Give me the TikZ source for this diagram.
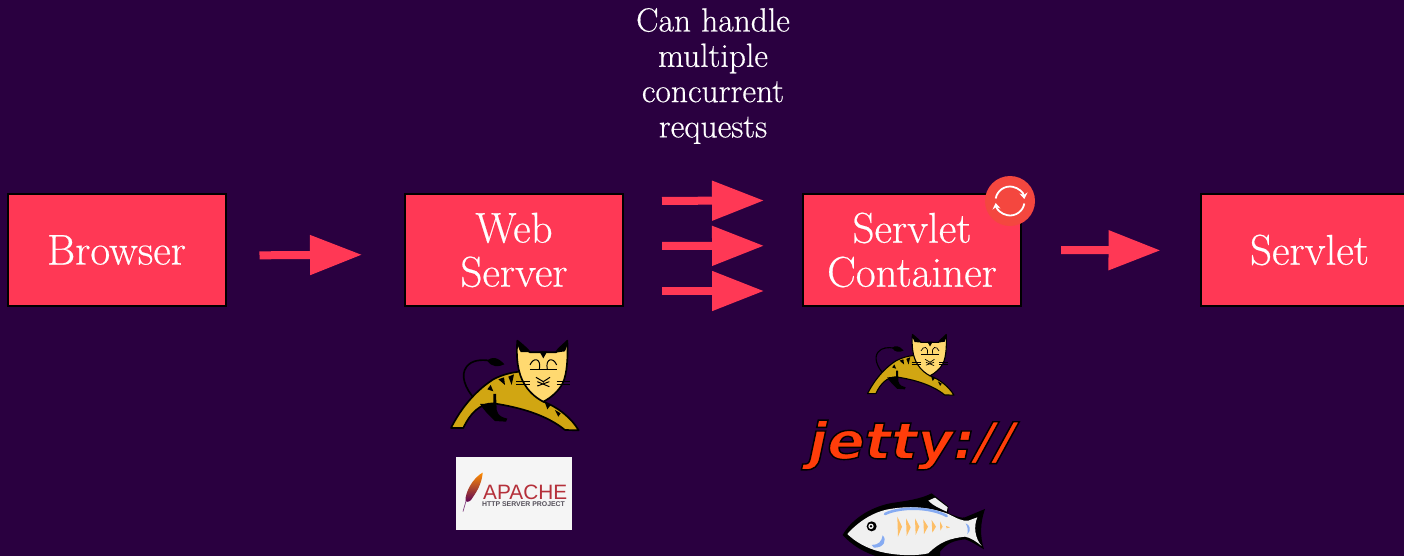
\documentclass[tikz,border=0pt]{standalone}
\usepackage{fontspec}
\usetikzlibrary{arrows.meta}
\newfontfamily\logosans{Liberation Sans}
\newfontfamily\jettyfont{DejaVu Sans}
\newfontfamily\headfont[FakeBold=0.5]{Latin Modern Roman}
\definecolor{bgc}{HTML}{2A0040}
\definecolor{boxc}{HTML}{FF3855}
\definecolor{badgec}{HTML}{F4473F}
\definecolor{catgold}{HTML}{D1A612}
\definecolor{catface}{HTML}{FFD970}
\definecolor{jettyc}{HTML}{FF3D0A}
\definecolor{apachered}{HTML}{B5303A}
\definecolor{apachegrey}{HTML}{55505A}
\definecolor{fishblue}{HTML}{86ABF2}
\definecolor{fishorange}{HTML}{FDBE66}
\tikzset{
  x=1pt,y=-1pt,
  stagebox/.style={draw=black,line width=2pt,fill=boxc,text=white,minimum width=218pt,minimum height=112pt,inner sep=0pt,align=center,
    font=\headfont\fontsize{43}{44}\selectfont},
  flowarrow/.style={draw=boxc,line width=8pt,-{Triangle[length=52pt,width=38pt,fill=boxc]}},
  cattline/.style={draw=black},
  badgearrow/.style={draw=white,line width=1.8pt,-{Stealth[length=6pt,width=8pt]}},
}
\newcommand{\drawcat}[3]{%
\begin{scope}[shift={(#1,#2)},x=#3pt,y=-#3pt]
  % tail
  \draw[black,line width=5*#3pt,line cap=round] (135,238) .. controls (105,205) and (90,165) .. (110,140) .. controls (125,120) and (155,118) .. (178,122);
  \fill[black] (172,122) .. controls (185,108) and (205,112) .. (223,133) .. controls (205,142) and (185,142) .. (172,122) -- cycle;
  % body
  \draw[black,fill=catgold,line width=5*#3pt,line join=round] (63,324) .. controls (85,280) and (125,220) .. (190,178) .. controls (215,165) and (240,158) .. (268,155)
    -- (340,245) .. controls (385,262) and (425,295) .. (446,331) -- (405,330) .. controls (350,285) and (270,262) .. (190,250) .. controls (150,250) and (120,280) .. (100,324) -- cycle;
  % hind leg
  \fill[black] (150,252) -- (190,250) -- (190,222) -- (198,222) -- (200,270) .. controls (205,290) and (218,292) .. (232,296) -- (228,305) -- (195,303) .. controls (175,285) and (160,268) .. (150,252) -- cycle;
  % stripes
  \fill[black] (205,178) -- (225,195) -- (222,172) -- cycle (235,170) -- (245,195) -- (252,163) -- cycle (172,208) -- (190,214) -- (182,195) -- cycle (345,248) -- (352,268) -- (362,255) -- cycle (375,270) -- (385,290) -- (392,280) -- cycle;
  % head
  \draw[black,fill=catface,line width=5*#3pt,line join=round] (262,62) .. controls (258,110) and (262,160) .. (285,195) .. controls (300,220) and (325,238) .. (340,245) .. controls (360,235) and (385,215) .. (398,190) .. controls (412,160) and (414,110) .. (412,62) .. controls (400,75) and (385,85) .. (378,97) -- (300,97) .. controls (290,85) and (275,72) .. (262,62) -- cycle;
  \fill[black] (262,62) .. controls (275,72) and (290,85) .. (302,97) -- (272,96) .. controls (265,85) and (263,75) .. (262,62) -- cycle
    (412,62) .. controls (400,72) and (385,85) .. (376,98) -- (405,94) .. controls (410,85) and (412,75) .. (412,62) -- cycle
    (328,94) -- (352,94) -- (340,115) -- cycle;
  % features
  \draw[cattline,line width=3*#3pt] (300,150) -- (382,150) (258,184) -- (300,184) (258,194) -- (300,194) (380,184) -- (420,184) (380,194) -- (420,194);
  \draw[cattline,line width=3*#3pt] (300,135) .. controls (310,110) and (335,115) .. (328,148) (352,148) .. controls (345,115) and (370,110) .. (380,135);
  \draw[cattline,line width=3*#3pt] (318,172) -- (340,185) -- (360,172) (322,198) -- (358,185) (322,185) -- (358,200) (340,185) -- (340,188);
\end{scope}}
\begin{document}
\begin{tikzpicture}
\useasboundingbox (0,0) rectangle (1404,556);
\fill[bgc] (0,0) rectangle (1404,556);
% stages
\node[stagebox] (browser) at (116.5,250) {Browser};
\node[stagebox] (web) at (514,250) {Web\\Server};
\node[stagebox] (container) at (912,250) {Servlet\\Container};
\node[stagebox] (servlet) at (1309.5,250) {Servlet};
% caption
\node[text=white,align=center,inner sep=0pt,font=\headfont\fontsize{33.5}{35.3}\selectfont] (note) at (713,76) {Can handle\\multiple\\concurrent\\requests};
% connectors
\draw[flowarrow,shorten <=33pt,shorten >=42pt] ([yshift=-5.5pt]browser.east) -- ([yshift=-4.5pt]web.west);
\draw[flowarrow,shorten <=38pt,shorten >=38pt] ([yshift=49pt]web.east) -- ([yshift=49.6pt]container.west);
\draw[flowarrow,shorten <=38pt,shorten >=38pt] ([yshift=4pt]web.east) -- ([yshift=4.3pt]container.west);
\draw[flowarrow,shorten <=38pt,shorten >=38pt] ([yshift=-41pt]web.east) -- ([yshift=-41pt]container.west);
\draw[flowarrow,shorten <=39pt,shorten >=39pt] ([yshift=0pt]container.east) -- ([yshift=-0.5pt]servlet.west);
% badge
\node[circle,fill=badgec,minimum size=50pt,inner sep=0pt] (badge) at (1010,201) {};
\draw[badgearrow] (995.7,198.5) arc[start angle=170,end angle=8,radius=14.5pt];
\draw[badgearrow] (1024.3,203.5) arc[start angle=-10,end angle=-172,radius=14.5pt];
% logos
\drawcat{430}{320}{0.3333}
\drawcat{853.3}{320.5}{0.2256}
% apache
\fill[white!96!black] (456,457) rectangle (572,530);
\shade[top color=orange!90!yellow,middle color=red!70!black,bottom color=violet!70!black,shading angle=0]
  (482.7,472.5) .. controls (473,478) and (465,492) .. (465.5,501) .. controls (468,503) and (471,501) .. (473,497) .. controls (478,490) and (482,482) .. (482.7,472.5) -- cycle;
\draw[violet!50!gray,line width=0.7pt] (466,501) -- (463,511.5);
\node[anchor=base west,inner sep=0pt,text=apachered,font=\logosans\fontsize{20.8}{22}\selectfont] (apache) at (483,499.3) {APACHE};
\node[anchor=base west,inner sep=0pt,text=apachegrey,font=\logosans\bfseries\fontsize{6.9}{7}\selectfont] (project) at (482,506.5) {HTTP SERVER PROJECT};
% jetty
\node[inner sep=0pt,text=jettyc,xscale=1.08,font=\jettyfont\bfseries\itshape\fontsize{51}{51}\selectfont] (jetty) at (912,445) {\special{pdf:code 2 Tr 1.4 w 0 0 0 RG}jetty://\special{pdf:code 0 Tr}};
% fish
\begin{scope}[shift={(800,410)},x=0.3333pt,y=-0.3333pt]
  \fill[black] (128,375) .. controls (150,335) and (200,295) .. (270,280) .. controls (320,272) and (360,268) .. (395,250) -- (445,290) -- (445,310) .. controls (470,320) and (485,325) .. (495,322) -- (555,297) .. controls (540,340) and (540,380) .. (552,418) .. controls (530,405) and (510,392) .. (495,388) .. controls (460,392) and (440,400) .. (420,425) -- (420,445) -- (250,445) .. controls (190,430) and (150,400) .. (128,375) -- cycle;
  \fill[white!94!black] (142,372) .. controls (175,335) and (220,305) .. (270,297) .. controls (340,285) and (400,295) .. (445,312) .. controls (470,325) and (490,335) .. (505,332) -- (532,322) .. controls (520,350) and (525,385) .. (545,408) .. controls (530,395) and (510,382) .. (495,380) .. controls (450,385) and (420,395) .. (385,430) .. controls (340,440) and (280,435) .. (240,425) .. controls (200,415) and (165,395) .. (142,372) -- cycle;
  \fill[white!94!black] (385,272) -- (405,263) -- (443,292) -- (440,305) .. controls (420,295) and (400,288) .. (385,272) -- cycle;
  \draw[fishblue,line width=2.6pt,line cap=round] (255,312) .. controls (300,290) and (390,290) .. (440,318);
  \fill[fishblue] (215,405) .. controls (235,405) and (245,395) .. (248,376) .. controls (262,390) and (252,414) .. (222,413) -- cycle;
  \fill[fishblue] (497,340) .. controls (510,345) and (515,360) .. (502,373) .. controls (505,360) and (503,350) .. (497,340) -- cycle;
  \fill[fishorange] (292,320) -- (306,350) -- (294,380) -- cycle (318,325) -- (332,352) -- (320,378) -- cycle (345,325) -- (358,350) -- (347,375) -- cycle (370,328) -- (384,350) -- (372,372) -- cycle (395,330) -- (408,350) -- (397,368) -- cycle (420,334) -- (428,350) -- (421,362) -- cycle (438,348) -- (450,352) -- (440,355) -- cycle;
  \fill[black] (215,349) circle[radius=15];
  \fill[white] (213,349) circle[radius=8];
  \fill[black] (213,349) circle[radius=4];
\end{scope}
\end{tikzpicture}
\end{document}
